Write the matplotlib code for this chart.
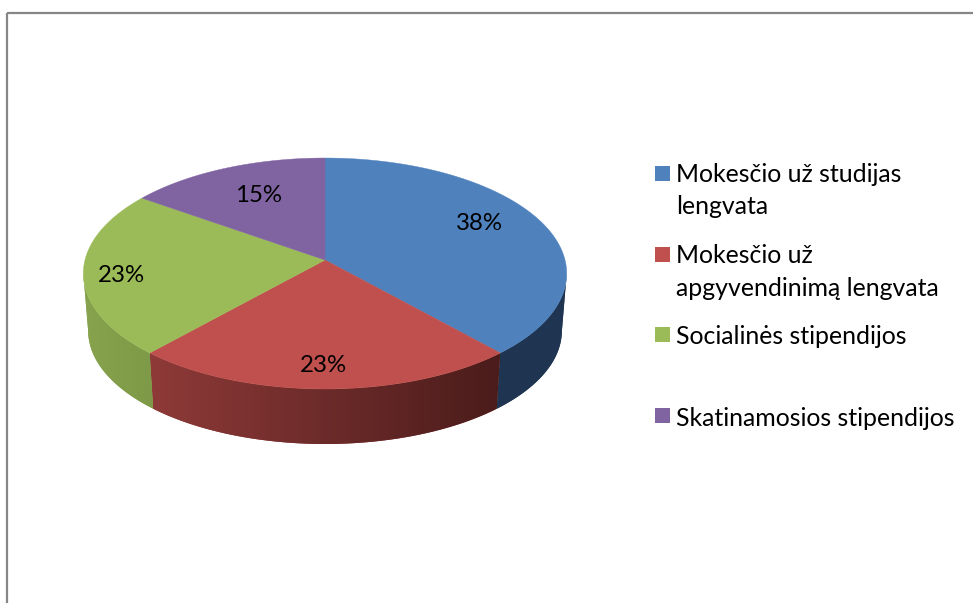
"""Skritulinė diagrama: lengvatos ir stipendijos (pseudo 3D, perspektyva)."""
import numpy as np
import matplotlib
matplotlib.use("Agg")
import matplotlib.pyplot as plt
from matplotlib.patches import Polygon, Rectangle
from matplotlib.colors import to_rgb

plt.rcParams["font.family"] = ["Lato", "DejaVu Sans"]

labels = ["Mokesčio už studijas\nlengvata", "Mokesčio už\napgyvendinimą lengvata",
          "Socialinės stipendijos", "Skatinamosios stipendijos"]
values = [38, 23, 23, 15]
colors = ["#4F81BD", "#C0504D", "#9BBB59", "#8064A2"]
side_left = ["#1F3552", "#8E3A38", "#87A34D", "#5A4672"]
side_right = ["#1F3552", "#4A1C1B", "#7E9A48", "#5A4672"]
label_pos = [(479, 224), (323, 366), (121, 276), (259, 195)]
legend_y = [173.5, 254.5, 334.5, 415.5]
legend_text_y = [190.5, 272, 336, 418]

# pie geometry in pixels
APEX_X, APEX_Y = 325, 260
A, B, K = 240, 113.9, 0.1169
DEPTH, SHRINK = 57.6, 0.98


def top_xy(theta):
    u, v = np.sin(theta), -np.cos(theta)
    w = 1 - K * v
    return APEX_X + A * u / w, APEX_Y + B * v / w


def bottom_xy(theta):
    x, y = top_xy(theta)
    return APEX_X + SHRINK * (x - APEX_X), APEX_Y + DEPTH + SHRINK * (y - APEX_Y)


fig = plt.figure(figsize=(9.73, 6.03), dpi=100)
ax = fig.add_axes([0, 0, 1, 1])
ax.axis("off")

ax.add_patch(Rectangle((7, 13), 1100, 700, fill=False, ec="#868686", lw=1.6))

edges = np.cumsum([0] + values) / sum(values) * 2 * np.pi

# side wall first, one gradient image per slice clipped to its wall
# the wall starts where the top ellipse is widest (cos = -K), else the outline twists
for i in range(len(values)):
    t = np.linspace(edges[i], edges[i + 1], 300)
    t = t[np.cos(t) <= -K]
    if len(t) < 2:
        continue
    xt, yt = top_xy(t)
    xb, yb = bottom_xy(t)
    wall = np.c_[np.r_[xt, xb[::-1]], np.r_[yt, yb[::-1]]]
    poly = Polygon(wall, closed=True, fc=side_left[i], ec="none", zorder=1.5)
    ax.add_patch(poly)
    lo, hi = wall[:, 0].min(), wall[:, 0].max()
    c0, c1 = np.array(to_rgb(side_left[i])), np.array(to_rgb(side_right[i]))
    grad = np.linspace(c0, c1, 256)[None, :, :]
    im = ax.imshow(grad, extent=[lo, hi, wall[:, 1].max(), wall[:, 1].min()],
                   aspect="auto", interpolation="bilinear", zorder=2)
    im.set_clip_path(poly)

# top surface
for i in range(len(values)):
    t = np.linspace(edges[i], edges[i + 1], 200)
    x, y = top_xy(t)
    ax.fill(np.r_[APEX_X, x], np.r_[APEX_Y, y], color=colors[i], lw=0.3, zorder=3)

for v, (x, y) in zip(values, label_pos):
    ax.text(x, y, f"{v}%", fontsize=17.3, color="black", ha="center", va="center", zorder=4)

for lab, col, sy, ty in zip(labels, colors, legend_y, legend_text_y):
    ax.add_patch(Rectangle((655, sy - 7.5), 15, 15, fc=col, ec="none"))
    ax.text(676, ty, lab, fontsize=17.9, color="black", ha="left", va="center", linespacing=1.5)

ax.set_xlim(0, 973)
ax.set_ylim(603, 0)

fig.savefig("out.png", dpi=100)
